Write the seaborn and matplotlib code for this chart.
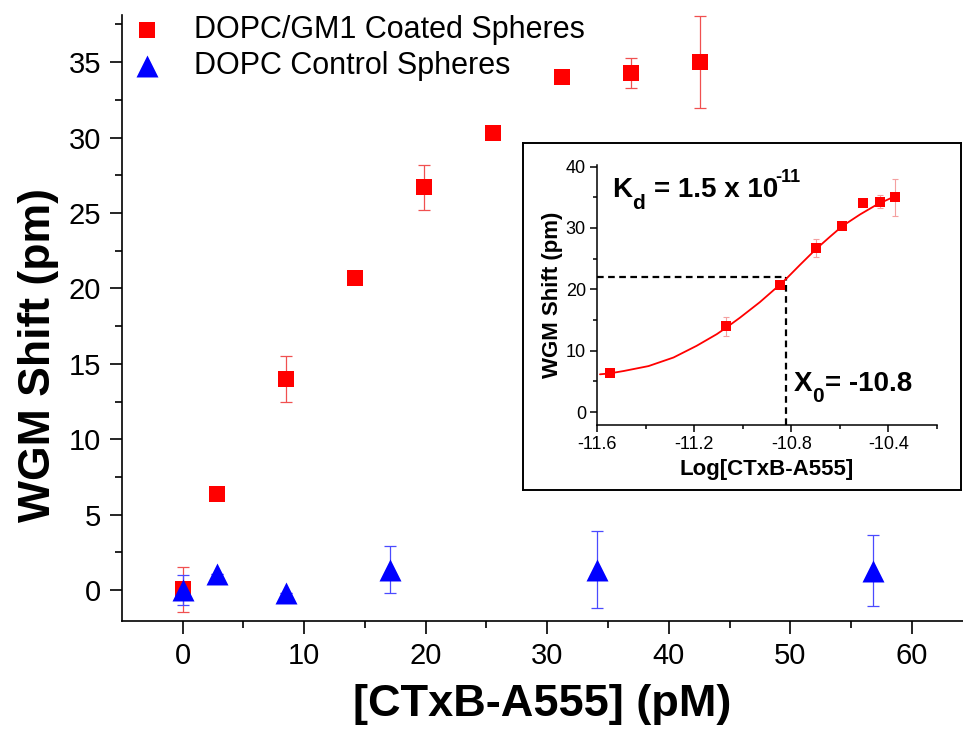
"""WGM shift vs CTxB-A555 concentration, with binding-curve inset."""

import matplotlib
matplotlib.use("Agg")
import matplotlib.pyplot as plt
import numpy as np
import pandas as pd
import seaborn as sns

# main panel: coated spheres
gm1_conc = [0, 2.84, 8.52, 14.2, 19.88, 25.56, 31.24, 36.92, 42.6]
gm1_shift = [0.05, 6.4, 14.0, 20.7, 26.7, 30.3, 34.0, 34.3, 35.0]
gm1_err = [1.5, 0.2, 1.55, 0.35, 1.5, 0.3, 0.4, 1.0, 3.05]

# main panel: control spheres
ctrl_conc = [0, 2.84, 8.52, 17.04, 34.08, 56.8]
ctrl_shift = [0.0, 1.1, -0.2, 1.35, 1.35, 1.3]
ctrl_err = [1.0, 0.0, 0.0, 1.55, 2.55, 2.35]

# inset: log concentration
log_conc = [-11.547, -11.07, -10.848, -10.70, -10.593, -10.505, -10.433, -10.371]
log_shift = [6.3, 14.0, 20.7, 26.7, 30.3, 34.0, 34.3, 35.0]
log_err = [0.2, 1.55, 0.35, 1.5, 0.3, 0.4, 1.0, 3.05]

# fitted curve
fit_x = [-11.588, -11.549, -11.49, -11.388, -11.285, -11.19, -11.107, -11.07,
         -11.011, -10.93, -10.846, -10.819, -10.764, -10.70, -10.64, -10.59,
         -10.517, -10.448, -10.377]
fit_y = [6.16, 6.3, 6.7, 7.5, 8.9, 10.8, 12.7, 13.7, 15.4, 17.9, 20.8, 21.8,
         24.0, 26.5, 28.6, 30.3, 32.2, 33.8, 35.1]

x0_log = -10.82
half_shift = 21.95

LABEL_GM1 = "DOPC/GM1 Coated Spheres"
LABEL_CTRL = "DOPC Control Spheres"


def style_ticks(ax, major_len, minor_len, width):
    ax.tick_params(which="major", direction="out", length=major_len, width=width,
                   color="black", labelcolor="black")
    ax.tick_params(which="minor", direction="out", length=minor_len, width=width,
                   color="black")
    for side in ("left", "bottom"):
        ax.spines[side].set_linewidth(width)
        ax.spines[side].set_color("black")
    for side in ("top", "right"):
        ax.spines[side].set_visible(False)


def main():
    sns.set_theme(style="ticks")
    plt.rcParams["font.family"] = ["Liberation Sans", "DejaVu Sans"]
    plt.rcParams["text.color"] = "black"
    plt.rcParams["axes.labelcolor"] = "black"

    fig = plt.figure(figsize=(9.63, 7.29), dpi=100)
    ax = fig.add_axes([0.1267, 0.148, 0.8733, 0.831])

    df = pd.concat([
        pd.DataFrame({"conc": gm1_conc, "shift": gm1_shift, "series": LABEL_GM1}),
        pd.DataFrame({"conc": ctrl_conc, "shift": ctrl_shift, "series": LABEL_CTRL}),
    ], ignore_index=True)

    ax.errorbar(gm1_conc, gm1_shift, yerr=gm1_err, fmt="none", ecolor="#f05050",
                elinewidth=0.9, capsize=4, capthick=0.9, zorder=2)
    ax.errorbar(ctrl_conc, ctrl_shift, yerr=ctrl_err, fmt="none", ecolor="#4a4aff",
                elinewidth=0.9, capsize=4, capthick=0.9, zorder=2)
    sns.scatterplot(data=df[df["series"] == LABEL_GM1], x="conc", y="shift",
                    marker="s", color="#ff0000", s=135, linewidth=0, ax=ax,
                    label=LABEL_GM1, zorder=3)
    sns.scatterplot(data=df[df["series"] == LABEL_CTRL], x="conc", y="shift",
                    marker="^", color="#0000ff", s=250, linewidth=0, ax=ax,
                    label=LABEL_CTRL, zorder=4)

    ax.set_xlim(-4.98, 64.2)
    ax.set_ylim(-2.05, 38.1)
    ax.set_xticks(np.arange(0, 61, 10))
    ax.set_xticks(np.arange(5, 61, 10), minor=True)
    ax.set_yticks(np.arange(0, 36, 5))
    ax.set_yticks(np.arange(2.5, 38, 5), minor=True)
    style_ticks(ax, 9, 5, 1.2)
    ax.tick_params(labelsize=21, pad=6)
    ax.set_xlabel("[CTxB-A555] (pM)", fontsize=32.5, fontweight="bold", labelpad=10)
    ax.set_ylabel("WGM Shift (pm)", fontsize=32, fontweight="bold")
    ax.yaxis.set_label_coords(-0.075, 0.439)
    ax.grid(False)

    handles, labels = ax.get_legend_handles_labels()
    ax.legend(handles, labels, loc="upper left", bbox_to_anchor=(0.011, 1.0),
              frameon=False, fontsize=22, handletextpad=1.05, labelspacing=0.18,
              borderpad=0, borderaxespad=0, markerscale=1.0, handlelength=1.0)

    # inset frame
    frame = fig.add_axes([0.543, 0.328, 0.455, 0.476])
    frame.set_xticks([])
    frame.set_yticks([])
    frame.set_facecolor("white")
    for sp in frame.spines.values():
        sp.set_linewidth(1.4)
        sp.set_color("black")

    ins = fig.add_axes([0.62, 0.417, 0.353, 0.357])
    ins.set_facecolor("none")
    ins.plot([-11.6, x0_log], [half_shift, half_shift], color="black",
             linestyle=(0, (3, 2)), linewidth=1.6, zorder=1)
    ins.plot([x0_log, x0_log], [-2.1, half_shift], color="black",
             linestyle=(0, (3, 2)), linewidth=1.6, zorder=1)
    sns.lineplot(x=fit_x, y=fit_y, sort=False, estimator=None, color="#ff0000",
                 linewidth=1.3, ax=ins, zorder=2)
    ins.errorbar(log_conc, log_shift, yerr=log_err, fmt="none", ecolor="#f4a0a0",
                 elinewidth=0.8, capsize=2.5, capthick=0.8, zorder=2)
    sns.scatterplot(x=log_conc, y=log_shift, marker="s", color="#ff0000", s=42,
                    linewidth=0, ax=ins, zorder=3)
    ins.set_xlim(-11.6, -10.2)
    ins.set_ylim(-2.1, 40.3)
    ins.set_xticks([-11.6, -11.2, -10.8, -10.4])
    ins.set_xticklabels(["-11.6", "-11.2", "-10.8", "-10.4"])
    ins.set_xticks([-11.4, -11.0, -10.6, -10.2], minor=True)
    ins.set_yticks([0, 10, 20, 30, 40])
    ins.set_yticks([5, 15, 25, 35], minor=True)
    style_ticks(ins, 5, 3, 1.1)
    ins.tick_params(labelsize=13, pad=3)
    ins.set_xlabel("Log[CTxB-A555]", fontsize=16, fontweight="bold", labelpad=4)
    ins.set_ylabel("WGM Shift (pm)", fontsize=16, fontweight="bold", labelpad=2)

    # K_d annotation, built from pieces so the exponent keeps a plain hyphen
    bold = dict(fontweight="bold", va="baseline", ha="left", color="black")
    ins.text(-11.537, 35.0, "K", fontsize=20, **bold)
    ins.text(-11.456, 33.1, "d", fontsize=15, **bold)
    ins.text(-11.367, 35.0, "= 1.5 x 10", fontsize=20, **bold)
    ins.text(-10.865, 37.45, "-11", fontsize=13, **bold)
    # X_0 annotation
    ins.text(-10.789, 3.43, "X", fontsize=20, **bold)
    ins.text(-10.713, 1.6, "0", fontsize=15, **bold)
    ins.text(-10.663, 3.43, "= -10.8", fontsize=20, **bold)
    ins.grid(False)

    fig.savefig("out.png", dpi=100)
    plt.close(fig)


if __name__ == "__main__":
    main()
